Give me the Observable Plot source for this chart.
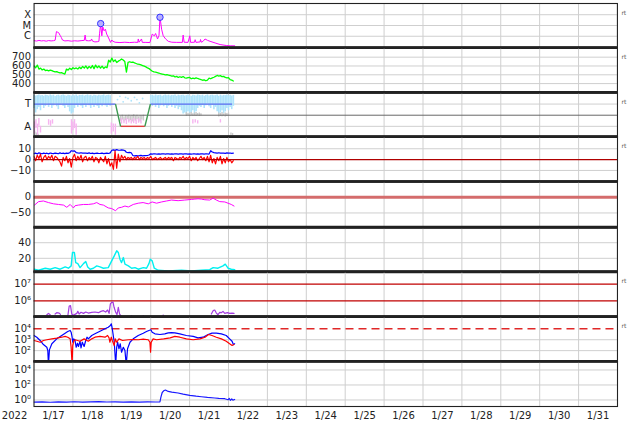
<!DOCTYPE html>
<html><head><meta charset="utf-8">
<script src="https://cdn.jsdelivr.net/npm/d3@7"></script>
<script src="https://cdn.jsdelivr.net/npm/@observablehq/plot@0.6"></script>
<style>
html,body{margin:0;padding:0;background:#fff;}
#chart{position:relative;width:634px;height:424px;overflow:hidden;background:#fff;}
</style></head><body><div id="chart"></div>
<script>
// ---------- DATA (hours since 2022-01-17 00:00 UTC) ----------
const yearLabel = "2022";
const dayLabels = ["1/17","1/18","1/19","1/20","1/21","1/22","1/23","1/24","1/25","1/26","1/27","1/28","1/29","1/30","1/31"];

// Panel 1: X-ray flux
const xrayTicks = [1e-4, 1e-5, 1e-6];
const xrayLabels = ["X", "M", "C"];
const xrayHours = [0,1.5,3,4.5,6,7.5,9,10.5,12,13,13.8,14.5,15.1,16.1,16.8,17.5,19,21,23,25,27,29,31,31.5,32,33.5,35,35.5,36,37.5,39,40,40.4,41.1,41.8,42.4,43.2,44,44.8,46,47.2,48,48.5,50,53,56,59,62,64,64.3,64.8,66.3,66.8,69,71.5,72.9,74.2,75,76.2,77.1,77.7,78.7,79.7,81.2,82.8,85,88,91.5,92,92.6,95,96.1,96.6,99,99.4,99.9,102.5,102.7,103.2,104.3,105.5,107,108.6,111.7,114.8,118.9,121,123.8];
const xrayFlux = [3.9e-7,3.6e-7,4.1e-7,3.7e-7,3.9e-7,3.5e-7,4.0e-7,3.7e-7,3.9e-7,4.3e-7,2.7e-6,2.4e-6,2.2e-6,1.2e-6,7.8e-7,4.5e-7,3.7e-7,3.9e-7,3.5e-7,3.8e-7,3.6e-7,3.9e-7,4.2e-7,1.29e-6,4.0e-7,3.8e-7,3.9e-7,5.6e-7,3.6e-7,3.0e-7,3.1e-7,3.4e-7,1.7e-6,1.46e-5,1.1e-6,7.3e-6,3.2e-6,4.5e-6,1.6e-6,6.9e-7,2.7e-7,4.5e-7,3.5e-7,2.8e-7,2.6e-7,2.8e-7,2.6e-7,2.8e-7,2.7e-7,5.6e-7,2.8e-7,5.6e-7,2.7e-7,2.7e-7,2.6e-7,1.58e-6,1.1e-6,1.8e-6,5.6e-7,1.2e-6,6.3e-5,4.5e-6,1.1e-6,5.6e-7,3.4e-7,2.8e-7,2.7e-7,2.7e-7,1.29e-6,2.8e-7,2.7e-7,1.1e-6,2.7e-7,2.8e-7,4.8e-7,2.7e-7,3.0e-7,5e-7,2.8e-7,3.4e-7,5.6e-7,4.2e-7,3.4e-7,2.4e-7,1.7e-7,1.37e-7,1.3e-7,1.29e-7];
const flareHours = [41.1, 77.7];
const flareFlux = [1.5e-5, 5.8e-5];

// Panel 2: solar wind speed (hourly from hour 0)
const speedTicks = [700, 600, 500, 400];
const speedKmS = [600,580,610,565,575,555,565,548,552,545,
553,547,538,532,536,528,522,524,515,508,
565,553,575,560,580,568,578,565,585,570,
595,575,600,570,595,575,605,570,610,580,
600,575,598,572,590,580,665,645,690,650,
670,640,655,665,680,668,650,530,640,648,
640,645,636,628,620,618,612,605,598,590,
578,570,555,540,532,530,525,520,512,508,
504,500,502,496,492,484,488,475,482,470,
478,470,480,466,462,468,470,455,463,457,
465,458,452,445,438,442,432,440,462,455,
465,472,482,492,486,490,478,482,470,465,
468,445,440,430];

// Panel 3: IMF sector (T = toward, A = away)
const sectorTicks = [0.5, -0.5];
const sectorLabels = ["T", "A"];
const sectorHours = [0, 50.3, 53.4, 68.4, 71.8, 122.2];
const sectorValues = [0.5, 0.5, -0.5, -0.5, 0.5, 0.5];
const tCloudStart1 = 0;
const tCloudLo1 = [0.3,0.1,0.25,0.35,0.2,0.45,0.3,0.4,0.5,0.35,0.45,0.3,0.42,0.5,0.38,0.25,0.45,0.5,0.4,0.3,0.45,0.35,0.15,0.05,0.1,0.3,0.45,0.35,0.5,0.4,0.3,0.45,0.35,0.5,0.42,0.3,0.45,0.35,0.48,0.4,0.3,0.45,0.38,0.5,0.42,0.35,0.45,0.4];
const tCloudHi1 = [0.9,0.86,0.88,0.91,0.87,0.89,0.85,0.9,0.88,0.86,0.91,0.87,0.9,0.84,0.88,0.9,0.86,0.89,0.91,0.87,0.85,0.9,0.88,0.86,0.9,0.87,0.91,0.85,0.89,0.88,0.9,0.86,0.88,0.91,0.87,0.89,0.85,0.9,0.88,0.86,0.9,0.87,0.89,0.91,0.86,0.88,0.9,0.87];
const tCloudStart2 = 72;
const tCloudLo2 = [0.45,0.4,0.5,0.35,0.45,0.3,0.42,0.5,0.38,0.45,0.3,0.4,0.48,0.35,0.45,0.3,0.4,0.25,0.35,0.2,0.05,0.1,0.02,0.15,0.05,0.1,0.2,0.05,0.15,0.3,0.4,0.35,0.45,0.3,0.42,0.5,0.38,0.3,0.45,0.25,0.35,0.15,0.05,0.1,0.2,0.08,0.15,0.3,0.2,0.35,0.25,0.4];
const tCloudHi2 = [0.88,0.9,0.86,0.91,0.87,0.89,0.9,0.85,0.88,0.91,0.87,0.9,0.86,0.89,0.88,0.91,0.85,0.9,0.87,0.89,0.9,0.86,0.88,0.91,0.87,0.85,0.9,0.88,0.86,0.91,0.89,0.87,0.9,0.85,0.88,0.91,0.86,0.89,0.9,0.87,0.88,0.91,0.85,0.9,0.86,0.89,0.88,0.91,0.87,0.9,0.86,0.89];
const grayHours = [0.5,1.5,2.5,53.5,54.5,55.5,56.5,57.5,58.5,59.5,60.5,61.5,62.5,63.5,64.5,65.5,66.5,67.5,94,95,96,97,98,99,100,101,102,103,114,115,116,117,118,119,120,121.5,122.5];
const grayLo = [-0.95,-0.92,-0.95,-0.27,-0.22,-0.3,-0.25,-0.2,-0.28,-0.24,-0.3,-0.22,-0.27,-0.2,-0.25,-0.3,-0.22,-0.26,-0.05,-0.03,-0.06,-0.02,-0.05,-0.04,-0.06,-0.03,-0.05,-0.02,-0.08,-0.05,-0.07,-0.04,-0.08,-0.06,-0.05,-0.9,-0.92];
const grayHi = [-0.75,-0.8,-0.85,-0.05,0.0,-0.08,-0.02,-0.05,0.0,-0.06,-0.03,0.02,-0.05,0.0,-0.07,-0.02,-0.04,0.0,0.12,0.08,0.1,0.12,0.06,0.1,0.12,0.08,0.1,0.06,0.1,0.08,0.12,0.06,0.1,0.08,0.1,-0.8,-0.82];
const pinkHours = [0.3,1.2,2.2,3,4,9,10.2,11.4,23.1,24,25,26,47.7,48.9,50.2,54,55.5,57,58.5,60,61.5,63,64.5,66,98,99.5,101,115];
const pinkLo = [-0.85,-0.6,-0.9,-0.5,-0.8,-0.45,-0.5,-0.4,-0.85,-0.7,-0.6,-0.9,-0.85,-0.75,-0.9,-0.4,-0.38,-0.42,-0.35,-0.4,-0.38,-0.42,-0.36,-0.4,-0.4,-0.35,-0.4,-0.35];
const pinkHi = [-0.3,-0.2,-0.4,-0.15,-0.5,-0.2,-0.25,-0.2,-0.2,-0.3,-0.2,-0.4,-0.35,-0.4,-0.4,-0.15,-0.2,-0.15,-0.18,-0.2,-0.15,-0.2,-0.16,-0.2,-0.2,-0.2,-0.25,-0.2];
const gapDotHours = [51.5,53,55,56.5,58,60,62,63.5,65,67];
const gapDotValues = [0.7,0.85,0.6,0.8,0.75,0.65,0.8,0.7,0.55,0.75];

// Panel 4: IMF Bt and Bz (hourly from hour 0)
const bTicks = [10, 0, -10];
const btNT = [5.5,6,5.2,6.2,5.8,5.4,6,5.6,5.9,5.3,
6.1,5.7,5.5,6,5.8,5.4,6.2,5.6,5.9,5.5,
6,5.7,6.3,8.2,7.8,8,6.5,6.2,6,6.3,
5.9,6.1,6,5.8,6.2,5.6,5.9,5.5,5.8,6,
5.6,5.7,5.9,5.5,5.8,6,5.6,6.2,8.6,9,
8.5,9.2,8.8,8.6,9,8.7,8.4,6.8,6.5,6.6,
6.3,3.8,3.5,3.7,3.4,3.6,3.9,3.5,3.7,3.6,
3.8,4.2,5.3,5,5.4,5.2,5.1,5.3,5,5.2,
5.4,5.1,5.3,5.2,5,5.3,5.1,5.4,5.2,5,
5.3,5.2,5.1,5.4,5.2,5,5.3,5.1,5.2,5.4,
5.1,5.3,5,5.2,5.3,5.1,5.4,5.2,5.1,8.2,
7,6.4,6.2,6,6.3,5.9,6.1,6,5.8,6.2,
5.9,6.1,5.8,6];
const bzNT = [3,-1,4,1,5,-2,2,4,0,3,
1,4,-1,3,2,0,-2,-6,2,-1,
3,-3,1,-7,2,5,-1,3,0,4,
-2,2,3,-1,2,0,3,-2,2,1,
-3,2,0,-2,3,-4,1,-6,-3,-9,
8,-8,5,-2,4,1,3,0,2,1,
2,0,2,1,3,0,2,1,2,0,
2,1,3,0,1,2,0,1,2,0,
1,2,0,2,1,2,-1,2,1,0,
2,1,3,0,2,1,3,-1,2,0,
2,-1,1,3,0,2,-1,3,-2,4,
-3,1,-4,2,-1,3,-4,1,-3,2,
-2,0,-3,-1];

// Panel 5: Dst
const dstTicks = [0, -50];
const dstHours = [0.3,2.8,5.8,8.9,12,15.1,18.2,20.2,22.3,24.3,25.3,27.4,30.5,33.5,36.6,38.7,40.7,42.8,45.8,47.9,50.3,52,54,56.1,58.2,61.2,64.3,67.3,70.5,72.9,75.6,78.7,81.7,84.8,88.9,93,97.1,99.2,101.2,103.3,105.4,108.4,110.5,112.5,114.6,117.7,119.7,121.7,123.4];
const dstNT = [-25,-14,-12,-17,-21,-23,-25,-32,-23,-34,-27,-25,-23,-23,-21,-17,-23,-25,-34,-36,-43,-34,-32,-28,-31,-23,-19,-17,-21,-15,-19,-15,-12,-9,-11,-9,-7,-6,-5,-6,-8,-9,-3,-9,-14,-15,-19,-23,-28];

// Panel 6: solar wind density
const densTicks = [40, 20];
const densHours = [0,2.8,6.9,10,13,16.1,19.2,21.2,22.9,23.7,24.9,25.7,27,28.4,30.5,31.9,33.1,34.6,36.6,38.7,40.7,42.8,45.8,47.9,49.5,51,52,53,54,55.1,56.1,58.2,60.2,62.3,64.3,67.4,69.4,70.9,71.7,72.9,74.2,76.6,82.8,91,97.1,103.3,108.4,110.5,113.5,116.6,118,119.7,121.7,123.8];
const densValues = [6,4.7,7.3,6,8.1,6,9,7.3,10.3,27.4,27.4,14.5,13.2,8.1,13.2,15.8,9,6,7.3,10.3,9,7.3,8.1,16.7,23.2,29.6,27.4,18.9,14.5,21,12.5,10.3,7.3,8.1,6,8.1,7.3,13.2,18.9,16.7,7.3,4.7,3.8,4.7,3.8,4.7,5.5,8.1,7.3,10.3,12.5,7.3,6,5.5];

// Panel 7: electron fluence (NaN = gap)
const elecTicks = [1e7, 1e6];
const elecLabels = ["10⁷", "10⁶"];
const elecHours = [7.9,8.9,10,10.5,13,14,15.5,16.3,17,20.8,21.7,22.5,23.3,24.1,26.4,27,27.8,29,30.5,31.9,33.5,35.6,37.6,39.7,41.3,42.8,44.2,45.4,46.3,47.1,47.9,48.7,49.4,50.4,51.2,52,52.8,54,55,109.4,110.5,111.5,112.5,113.5,114.6,115.6,116.6,117.7,119.3,120.7,122.2,123.4];
const elecFlux = [1.51e5,1.82e5,1.51e5,NaN,1.66e5,2.0e5,1.9e5,1.58e5,NaN,1.2e5,5.0e5,5.25e5,1.66e5,1.38e5,1.82e5,2.4e5,1.66e5,2.1e5,1.82e5,2.19e5,1.9e5,2.1e5,2.19e5,2.0e5,2.4e5,2.63e5,2.19e5,2.88e5,1.82e5,6.6e5,8.1e5,8.7e5,4.17e5,2.1e5,1.51e5,4.17e5,1.66e5,1.2e5,NaN,1.66e5,2.63e5,2.88e5,1.9e5,1.51e5,2.1e5,2.0e5,2.4e5,1.82e5,2.0e5,1.82e5,1.9e5,1.82e5];
const elecDotHours = [60.2, 67.4, 79.7];
const elecDotFlux = [1.3e5, 1.3e5, 1.4e5];

// Panel 8: two flux series
const p8Ticks = [1e4, 1e3, 1e2];
const p8Labels = ["10⁴", "10³", "10²"];
const blueHours = [0,1.7,3.8,5.8,7.9,8.5,8.9,9.5,11,14,17.1,19.2,20.8,22.3,22.9,23.5,23.9,24.5,25.3,26,26.8,27.4,28.4,29,29.8,30.9,31.9,32.7,33.5,35.6,37.6,40.7,43.8,45.8,47.1,47.7,48.3,48.9,49.5,50.4,51,51.6,52.4,53.2,54,55.1,56.1,56.9,57.7,59.2,61.2,64.3,67.4,69.4,70.9,72.1,72.9,74.6,77.7,80.7,82.8,84.8,86.9,90,94,98.2,101.2,104.3,107.4,109.8,112.5,115.6,118.6,120.7,122.2,123,123.8];
const blueFlux = [2450,1700,850,363,204,102,5,117,427,1200,2450,3980,5620,7080,4900,1700,590,1200,850,204,480,240,725,182,590,240,850,1700,1200,2450,3470,6030,10000,14100,20000,28800,10000,2450,590,5,204,590,148,427,71,204,102,5,148,590,1200,2450,3980,5620,7080,8130,4900,3470,3020,3470,4270,4570,4270,3470,2450,2000,1480,1700,3020,3980,3980,3470,2450,1200,725,363,427];
const redHours = [0,1.7,3.8,5.8,7.9,11,14,17.1,19.2,20.8,22.3,22.9,23.5,23.9,24.5,25.3,28.4,30.9,33.5,35.6,37.6,40.7,43.8,45.4,46.3,46.8,47.7,48.3,49.5,50.1,51,52.4,54.6,58.2,61.2,64.3,67.4,70.5,71.5,71.9,72.3,73.5,75.6,80,84,86.9,90,94,98.2,102.4,105.5,107.7,109.8,112.5,115.6,118.6,120.7,122.2,123.4];
const redFlux = [850,725,590,850,990,1200,1380,1700,2000,1700,1200,204,5,295,725,990,725,1200,725,1200,1700,2000,1700,2450,1480,590,1700,850,295,1200,590,1200,850,990,1050,990,1120,990,590,71,590,1200,990,1200,1480,2000,1700,1200,990,1200,1700,3020,2450,1700,1200,725,427,300,363];

// Panel 9: proton flux
const p9Ticks = [1e4, 1e2, 1e0];
const p9Labels = ["10⁴", "10²", "10⁰"];
const protonHours = [0,5,10,15,20,25,30,35,40,45,50,55,60,65,70,75,77.7,78.3,79.1,80.3,81.1,82.8,85,88.9,92,96.1,100,103.3,107,111.5,114,117.7,119.7,120.5,121.2,122,122.7,123.8];
const protonFlux = [0.52,0.55,0.5,0.56,0.53,0.58,0.52,0.55,0.6,0.54,0.57,0.52,0.56,0.53,0.55,0.54,0.56,2.45,10,18.6,20.9,13.8,11,8.5,6,4.1,3.2,2.7,2.2,1.82,1.6,1.48,1.07,1.6,0.9,1.4,0.95,1.17];

// ---------- RENDER ----------
const T0 = Date.UTC(2022, 0, 17);
const H = h => new Date(T0 + h * 3600e3);
const X_DOMAIN = [H(0), H(15 * 24)];
const midnights = d3.range(1, 15).map(d => H(d * 24));
const dayTicks = dayLabels.map((_, i) => H(i * 24 + 12));
const yearTick = H(-12);
const B = [2.5, 46.7, 91.6, 135.9, 180.9, 226.5, 270.9, 316, 360.8, 405.8];
const GRID = "#cfcfcf";
const chart = document.getElementById("chart");
const pairs = (hs, vs) => hs.map((h, i) => ({t: H(h), v: vs[i]}));
const hourly = (vs, start = 0) => vs.map((v, i) => ({t: H(start + i), v}));
const lab = (ticks, labels) => d => labels[ticks.indexOf(d)];
const yAxis = (ticks, fmt) => Plot.axisY(ticks, {label: null, tickSize: 0, tickPadding: 3, fontSize: 10, fill: "#222", ...(fmt ? {tickFormat: fmt} : {})});

function addPanel(i, y, marks, rt) {
  const last = i === 8;
  const h = B[i + 1] - B[i];
  const sep = [];
  if (!last) sep.push(Plot.ruleY([y.domain[0]], {stroke: "#222", strokeWidth: 2.6}));
  if (i > 0) sep.push(Plot.ruleY([y.domain[1]], {stroke: "#222", strokeWidth: 2.6}));
  const p = Plot.plot({
    width: 634,
    height: h + (last ? 18 : 0),
    marginLeft: 33.5, marginRight: 17, marginTop: 0, marginBottom: last ? 18 : 0,
    style: {background: "transparent", overflow: "visible", fontFamily: "DejaVu Sans, sans-serif", fontSize: "10px", color: "#222"},
    x: last ? {type: "utc", domain: X_DOMAIN, label: null} : {type: "utc", domain: X_DOMAIN, axis: null, label: null},
    y: {...y, label: null},
    marks: [
      Plot.gridX(midnights, {stroke: GRID, strokeOpacity: 1}),
      ...marks,
      Plot.frame({stroke: "#222", strokeWidth: 1.1}),
      ...sep,
      ...(rt ? [Plot.text(["rt"], {frameAnchor: "top-right", textAnchor: "start", lineAnchor: "middle", dx: 4, dy: 10, fontSize: 6, fill: "#555"})] : [])
    ]
  });
  p.style.position = "absolute";
  p.style.top = B[i] + "px";
  p.style.left = "0px";
  chart.appendChild(p);
}

// 1 X-ray
addPanel(0, {type: "log", domain: [8.7e-8, 1.1e-3]}, [
  Plot.gridY(xrayTicks, {stroke: GRID, strokeOpacity: 1}),
  Plot.line(pairs(xrayHours, xrayFlux), {x: "t", y: "v", stroke: "#ff00ff", strokeWidth: 1, clip: true}),
  Plot.dot(pairs(flareHours, flareFlux), {x: "t", y: "v", r: 3.2, stroke: "#3030ff", fill: "#b8b0ff", strokeWidth: 1}),
  yAxis(xrayTicks, lab(xrayTicks, xrayLabels))
], true);

// 2 speed
addPanel(1, {domain: [300, 810]}, [
  Plot.gridY(speedTicks, {stroke: GRID, strokeOpacity: 1}),
  Plot.line(hourly(speedKmS), {x: "t", y: "v", stroke: "#00ff00", strokeWidth: 1.3, clip: true}),
  yAxis(speedTicks)
], true);

// 3 sector
const tCloud = [
  ...tCloudLo1.map((lo, i) => ({t: H(tCloudStart1 + i), lo, hi: tCloudHi1[i]})),
  ...tCloudLo2.map((lo, i) => ({t: H(tCloudStart2 + i), lo, hi: tCloudHi2[i]}))
];
const ranges = (hs, lo, hi) => hs.map((h, i) => ({t: H(h), lo: lo[i], hi: hi[i]}));
const segs = sectorHours.slice(1).map((h, i) => {
  const a = sectorValues[i], b = sectorValues[i + 1];
  return {x1: H(sectorHours[i]), y1: a, x2: H(h), y2: b, k: a !== b ? "G" : (a > 0 ? "T" : "A")};
});
addPanel(2, {domain: [-0.97, 1.02]}, [
  Plot.gridY(sectorTicks, {stroke: GRID, strokeOpacity: 1}),
  Plot.ruleX(tCloud, {x: "t", y1: "lo", y2: "hi", stroke: "#aee3fb", strokeWidth: 1.6}),
  Plot.ruleX(ranges(grayHours, grayLo, grayHi), {x: "t", y1: "lo", y2: "hi", stroke: "#cacaca", strokeWidth: 1.4}),
  Plot.ruleX(ranges(pinkHours, pinkLo, pinkHi), {x: "t", y1: "lo", y2: "hi", stroke: "#f6b4f0", strokeWidth: 1.4}),
  Plot.dot(pairs(gapDotHours, gapDotValues), {x: "t", y: "v", r: 0.9, fill: "#aee3fb"}),
  Plot.ruleY([0], {stroke: "#666", strokeWidth: 1}),
  Plot.link(segs.filter(s => s.k === "T"), {x1: "x1", y1: "y1", x2: "x2", y2: "y2", stroke: "#5a6cf0", strokeWidth: 1.4}),
  Plot.link(segs.filter(s => s.k === "A"), {x1: "x1", y1: "y1", x2: "x2", y2: "y2", stroke: "#e04040", strokeWidth: 1.4}),
  Plot.link(segs.filter(s => s.k === "G"), {x1: "x1", y1: "y1", x2: "x2", y2: "y2", stroke: "#3c9a50", strokeWidth: 1.4}),
  yAxis(sectorTicks, lab(sectorTicks, sectorLabels))
], true);

// 4 Bt / Bz
addPanel(3, {domain: [-20.2, 21.3]}, [
  Plot.gridY([10, -10], {stroke: GRID, strokeOpacity: 1}),
  Plot.line(hourly(btNT), {x: "t", y: "v", stroke: "#0000ff", strokeWidth: 1.2, clip: true}),
  Plot.line(hourly(bzNT), {x: "t", y: "v", stroke: "#ff0000", strokeWidth: 1.2, clip: true}),
  Plot.ruleY([0], {stroke: "#b00000", strokeWidth: 1.2}),
  yAxis(bTicks)
], true);

// 5 Dst
addPanel(4, {domain: [-95, 50]}, [
  Plot.gridY([-50], {stroke: GRID, strokeOpacity: 1}),
  Plot.ruleY([0], {stroke: "#d46c6c", strokeWidth: 3}),
  Plot.line(pairs(dstHours, dstNT), {x: "t", y: "v", stroke: "#ff00ff", strokeWidth: 1, clip: true}),
  yAxis(dstTicks)
], false);

// 6 density
addPanel(5, {domain: [2.6, 59.5]}, [
  Plot.gridY(densTicks, {stroke: GRID, strokeOpacity: 1}),
  Plot.line(pairs(densHours, densValues), {x: "t", y: "v", stroke: "#00f0f0", strokeWidth: 1.4, clip: true}),
  yAxis(densTicks)
], false);

// 7 electrons
addPanel(6, {type: "log", domain: [1.17e5, 5.6e7]}, [
  Plot.ruleY(elecTicks, {stroke: "#c00000", strokeWidth: 1.2}),
  Plot.line(pairs(elecHours, elecFlux), {x: "t", y: "v", stroke: "#a33be0", strokeWidth: 1.2, clip: true}),
  Plot.dot(pairs(elecDotHours, elecDotFlux), {x: "t", y: "v", r: 0.8, fill: "#a33be0", clip: true}),
  yAxis(elecTicks, lab(elecTicks, elecLabels))
], true);

// 8 two fluxes
addPanel(7, {type: "log", domain: [10.5, 1.35e5]}, [
  Plot.gridY([1e3, 1e2], {stroke: GRID, strokeOpacity: 1}),
  Plot.ruleY([1e4], {stroke: "#e02828", strokeWidth: 1.5, strokeDasharray: "8,5"}),
  Plot.line(pairs(blueHours, blueFlux), {x: "t", y: "v", stroke: "#0000ff", strokeWidth: 1.2, clip: true}),
  Plot.line(pairs(redHours, redFlux), {x: "t", y: "v", stroke: "#ff0000", strokeWidth: 1.2, clip: true}),
  yAxis(p8Ticks, lab(p8Ticks, p8Labels))
], true);

// 9 protons + x axis
addPanel(8, {type: "log", domain: [0.135, 1.35e5]}, [
  Plot.gridY(p9Ticks, {stroke: GRID, strokeOpacity: 1}),
  Plot.line(pairs(protonHours, protonFlux), {x: "t", y: "v", stroke: "#1a1aff", strokeWidth: 1.2, clip: true}),
  yAxis(p9Ticks, lab(p9Ticks, p9Labels)),
  Plot.axisX(dayTicks, {label: null, tickSize: 0, tickPadding: 5, fontSize: 10, fill: "#222", tickFormat: d => dayLabels[dayTicks.findIndex(t => +t === +d)]}),
  Plot.text([yearLabel], {x: [yearTick], frameAnchor: "bottom", lineAnchor: "top", dy: 5, fontSize: 10, fill: "#222"})
], false);
</script>
</body></html>
